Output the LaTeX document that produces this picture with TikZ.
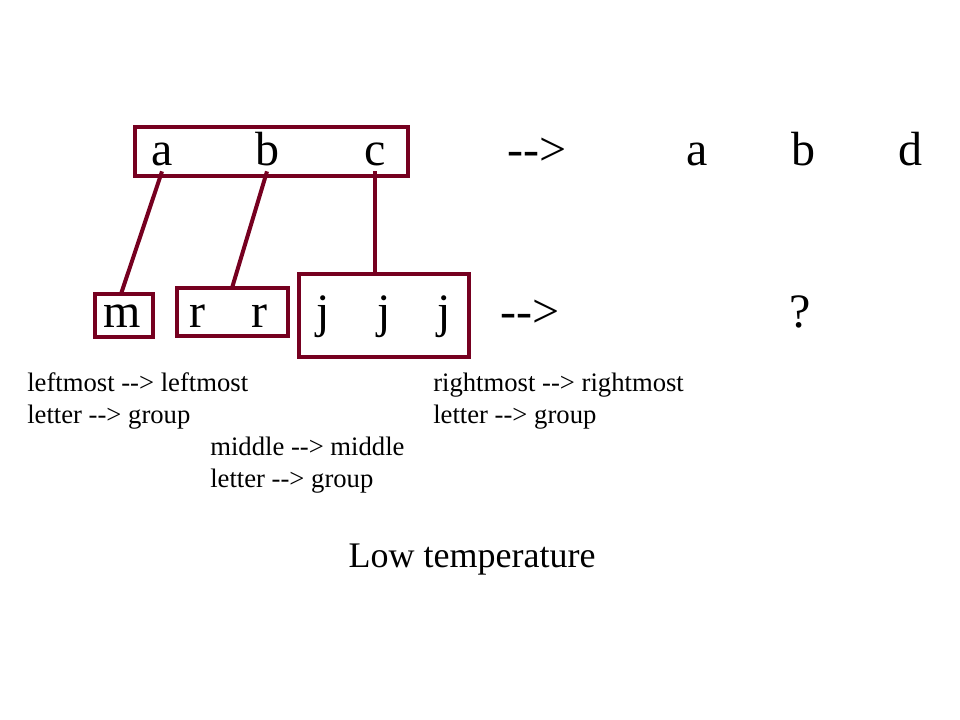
\documentclass[tikz,border=0pt]{standalone}
\usepackage{fontspec}
\setmainfont{Liberation Serif}
\definecolor{maroon}{RGB}{118,0,32}
\tikzset{
  box/.style={draw=maroon,line width=3pt},
  link/.style={draw=maroon,line width=3pt},
  big/.style={font=\fontsize{36}{40}\selectfont,inner sep=3.5pt,anchor=base},
  small/.style={font=\fontsize{20}{24}\selectfont,inner sep=0pt,anchor=base west},
}
\begin{document}
\begin{tikzpicture}[x=0.75pt,y=-0.75pt]
  \useasboundingbox (0,0) rectangle (960,720);
  % top row
  \draw[box] (135,127) rectangle (408,176);
  \node[big] (ta) at (162,166) {a};
  \node[big] (tb) at (267,166) {b};
  \node[big] (tc) at (375,166) {c};
  \node[big] (tarr) at (537,166) {-{}->};
  \node[big] (ua) at (697,166) {a};
  \node[big] (ub) at (803,166) {b};
  \node[big] (ud) at (910,166) {d};
  % bottom row
  \draw[box] (95,294) rectangle (153,337);
  \draw[box] (177,288) rectangle (288,336);
  \draw[box] (299,274) rectangle (469,357);
  \coordinate (mtop) at (121,294);
  \coordinate (rtop) at (232,288);
  \coordinate (jtop) at (375,274);
  \node[big] (bm) at (122,327) {m};
  \node[big] (br1) at (197,327) {r};
  \node[big] (br2) at (259,327) {r};
  \node[big] (bj1) at (323,327) {j};
  \node[big] (bj2) at (384,327) {j};
  \node[big] (bj3) at (444,327) {j};
  \node[big] (barr) at (530,327) {-{}->};
  \node[big] (bq) at (800,327) {?};
  % links
  \draw[link] (ta.south) -- (mtop);
  \draw[link] (tb.south) -- (rtop);
  \draw[link] (tc.south) -- (jtop);
  % notes
  \node[small] (n1) at (27,391) {leftmost -{}-> leftmost};
  \node[small] (n2) at (27,423) {letter -{}-> group};
  \node[small] (n3) at (210,455) {middle -{}-> middle};
  \node[small] (n4) at (210,487) {letter -{}-> group};
  \node[small] (n5) at (433,391) {rightmost -{}-> rightmost};
  \node[small] (n6) at (433,423) {letter -{}-> group};
  \node[font=\fontsize{27}{30}\selectfont,anchor=base] (low) at (472,567) {Low temperature};
\end{tikzpicture}
\end{document}
